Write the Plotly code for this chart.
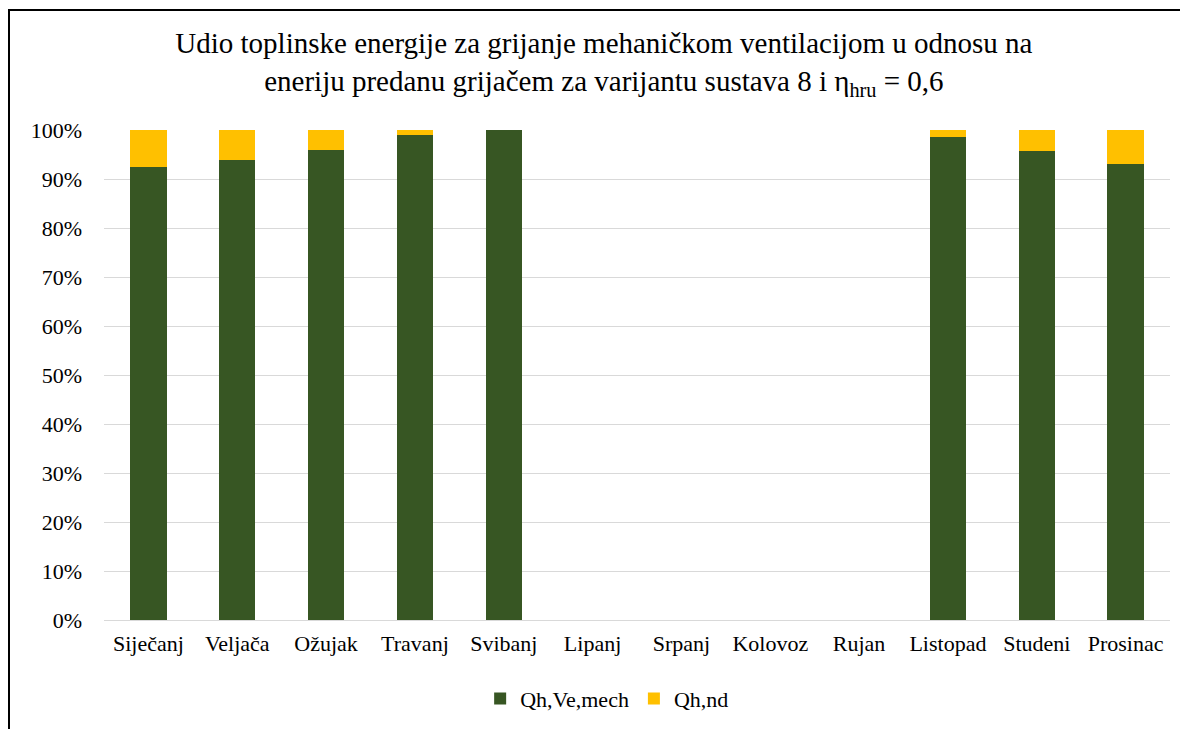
import plotly.graph_objects as go

months = ["Siječanj", "Veljača", "Ožujak", "Travanj", "Svibanj", "Lipanj",
          "Srpanj", "Kolovoz", "Rujan", "Listopad", "Studeni", "Prosinac"]
qh_ve_mech = [92.5, 93.9, 96.0, 99.0, 100.0, 0, 0, 0, 0, 98.5, 95.8, 93.1]
qh_nd = [7.5, 6.1, 4.0, 1.0, 0.0, 0, 0, 0, 0, 1.5, 4.2, 6.9]

font = "Times New Roman, Liberation Serif, serif"

# the page body has an 8px margin, so the figure is 8px smaller than the window
W, H = 1180, 721
L, R, T, B = 96, 18, 122, 109

fig = go.Figure()
fig.add_trace(go.Bar(x=months, y=qh_ve_mech, name="Qh,Ve,mech",
                     marker=dict(color="#375623", line=dict(width=0))))
fig.add_trace(go.Bar(x=months, y=qh_nd, name="Qh,nd",
                     marker=dict(color="#FFC000", line=dict(width=0))))

fig.update_layout(
    barmode="stack",
    bargap=0.59,
    width=W, height=H,
    paper_bgcolor="white", plot_bgcolor="white",
    font=dict(family=font, size=22, color="black"),
    margin=dict(l=L, r=R, t=T, b=B, autoexpand=False),
    title=dict(
        text="Udio toplinske energije za grijanje mehaničkom ventilacijom u odnosu na<br>"
             "eneriju predanu grijačem za varijantu sustava 8 i η<sub>hru</sub> = 0,6",
        x=0.505, xanchor="center", y=0.937, yanchor="top",
        font=dict(family=font, size=29, color="black"),
    ),
    legend=dict(orientation="h", x=0.472, xanchor="center", y=-0.118, yanchor="top",
                font=dict(family=font, size=22), traceorder="normal",
                itemwidth=30),
    showlegend=True,
)
fig.update_yaxes(range=[0, 100], dtick=10, ticksuffix="%", showgrid=True,
                 gridcolor="#D9D9D9", gridwidth=1, zeroline=False,
                 showline=False, ticks="", ticklabelstandoff=21)
fig.update_xaxes(showline=True, linecolor="#D9D9D9", linewidth=1, ticks="",
                 tickangle=0, ticklabelstandoff=4)

pw = W - L - R
ph = H - T - B
fig.add_shape(type="rect", xref="paper", yref="paper",
              x0=(1 - L) / pw, x1=1.2, y0=-0.4, y1=1 + (T - 2) / ph,
              line=dict(color="black", width=2), layer="below")

fig.write_html("out.html")
